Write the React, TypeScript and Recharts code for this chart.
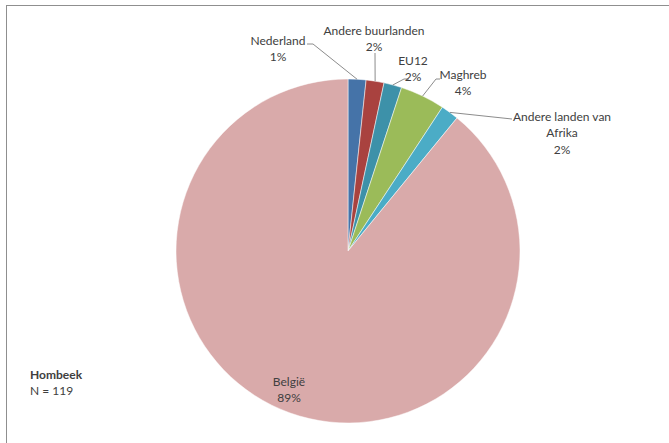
import { PieChart, Pie, Cell } from 'recharts'

// herkomst Hombeek (aantallen, N = 119)
const categories = ['Nederland', 'Andere buurlanden', 'EU12', 'Maghreb', 'Andere landen van Afrika', 'België']
const counts = [2, 2, 2, 5, 2, 106]
const percentLabels = ['1%', '2%', '2%', '4%', '2%', '89%']
const labelLines = [['Nederland'], ['Andere buurlanden'], ['EU12'], ['Maghreb'], ['Andere landen van', 'Afrika'], ['België']]

const colors = ['#4573A8', '#A9423F', '#3D91A9', '#9BBB59', '#4BACC6', '#D9AAAA']

// label layout, offsets from the pie centre: text centre of first line + leader points
const labelLayout = [
  { x: -70, y: -211, leader: [[-35, -207], [-41, -207]] },
  { x: 26, y: -221, leader: [[27, -198]] },
  { x: 65, y: -191, leader: [[56, -172], [61, -172]] },
  { x: 115, y: -177, leader: [[88, -172], [92, -172]] },
  { x: 214, y: -135, leader: [[164, -132]] },
  { x: -59, y: 130, leader: [] },
]

const data = categories.map((name, i) => ({ name, value: counts[i] }))

const RADIAN = Math.PI / 180
const FONT = 'Lato, "Open Sans", sans-serif'

function renderLabel(props: any) {
  const { cx, cy, midAngle, outerRadius, index } = props
  const layout = labelLayout[index]
  const ex = cx + outerRadius * Math.cos(-midAngle * RADIAN)
  const ey = cy + outerRadius * Math.sin(-midAngle * RADIAN)
  const lines = [...labelLines[index], percentLabels[index]]
  const pts = layout.leader.length ? [[ex, ey], ...layout.leader.map(([dx, dy]) => [cx + dx, cy + dy])] : []
  return (
    <g key={`lbl-${index}`}>
      {pts.length > 0 && (
        <polyline points={pts.map((p) => p.join(',')).join(' ')} fill="none" stroke="#8c8c8c" strokeWidth={1} />
      )}
      {lines.map((t, j) => (
        <text
          key={j}
          x={cx + layout.x}
          y={cy + layout.y + j * 16.5}
          textAnchor="middle"
          dominantBaseline="central"
          fontFamily={FONT}
          fontSize={12}
          fill="#404040"
        >
          {t}
        </text>
      ))}
    </g>
  )
}

export default function App() {
  return (
    <div style={{ position: 'absolute', left: 0, top: 0, width: 669, height: 443, background: '#fff' }}>
      <div
        style={{
          position: 'absolute',
          left: 6,
          top: 5,
          width: 663,
          height: 438,
          borderTop: '1px solid #8f8f8f',
          borderLeft: '1px solid #8f8f8f',
        }}
      />
      <PieChart
        width={669}
        height={443}
        margin={{ top: 0, right: 0, bottom: 0, left: 0 }}
        style={{ position: 'absolute', left: 0, top: 0 }}
      >
        <Pie
          data={data}
          dataKey="value"
          nameKey="name"
          cx={348}
          cy={251}
          outerRadius={172}
          startAngle={90}
          endAngle={-270}
          stroke="#ffffff"
          strokeWidth={0.5}
          label={renderLabel}
          labelLine={false}
          isAnimationActive={false}
        >
          {data.map((d, i) => (
            <Cell key={d.name} fill={colors[i]} />
          ))}
        </Pie>
      </PieChart>
      <div style={{ position: 'absolute', left: 30, top: 367, fontFamily: FONT, fontSize: 12, color: '#404040', lineHeight: '16px' }}>
        <div style={{ fontWeight: 'bold' }}>Hombeek</div>
        <div>N = 119</div>
      </div>
    </div>
  )
}
